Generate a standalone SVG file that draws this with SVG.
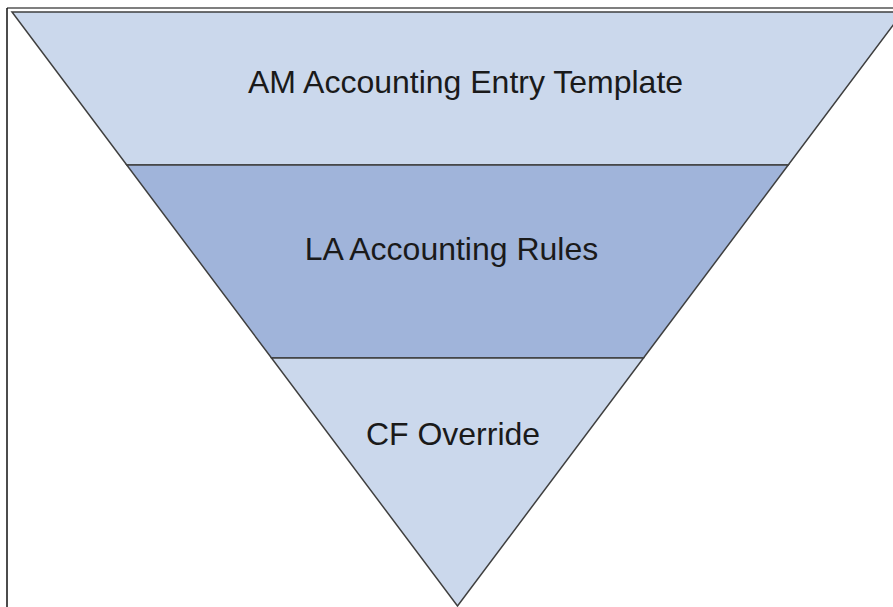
<svg xmlns="http://www.w3.org/2000/svg" width="893" height="607" viewBox="0 0 893 607">
<style>
.band{stroke:#3f3f3f;stroke-width:1.5;stroke-linejoin:miter}
.light{fill:#cbd8ec}
.dark{fill:#a0b4da}
.lbl{font-family:"Liberation Sans",Arial,sans-serif;font-size:32px;fill:#1a1a1a;text-anchor:middle}
</style>
<rect width="893" height="607" fill="#ffffff"/>
<g id="frame">
<line x1="7" y1="8" x2="893" y2="8" stroke="#555555" stroke-width="1.5"/>
<line x1="7" y1="8" x2="7" y2="607" stroke="#111111" stroke-width="1.5"/>
</g>
<g id="band-am">
<polygon class="band light" points="12,12 903,12 788.25,165 126.75,165"/>
<text class="lbl" x="465.5" y="93">AM Accounting Entry Template</text>
</g>
<g id="band-la">
<polygon class="band dark" points="126.75,165 788.25,165 643.5,358 271.5,358"/>
<text class="lbl" x="451.5" y="260">LA Accounting Rules</text>
</g>
<g id="band-cf">
<polygon class="band light" points="271.5,358 643.5,358 457.5,606"/>
<text class="lbl" x="453" y="445">CF Override</text>
</g>
</svg>
